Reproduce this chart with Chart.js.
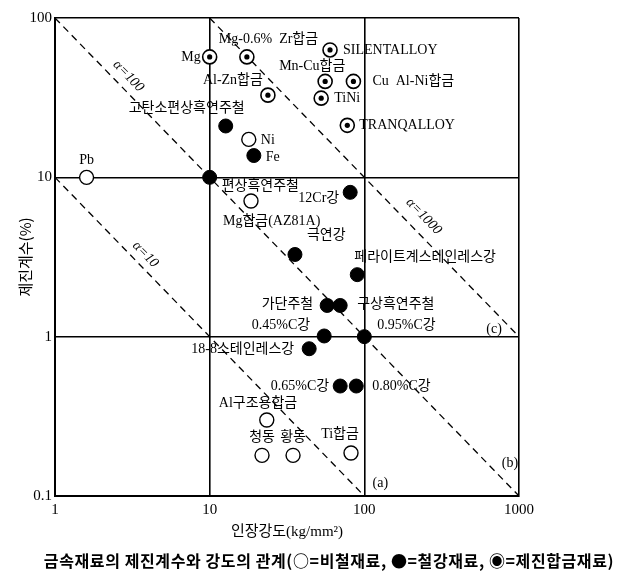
<!DOCTYPE html>
<html><head><meta charset="utf-8">
<script src="https://cdn.jsdelivr.net/npm/chart.js@4/dist/chart.umd.min.js"></script>
<style>html,body{margin:0;padding:0;background:#fff}#wrap{width:620px;height:582px;position:relative}</style>
</head><body><div id="wrap"><canvas id="c" width="620" height="582"></canvas></div>
<script>
// ---- tick values ----
const xTickValues = [1, 10, 100, 1000];
const yTickValues = [0.1, 1, 10, 100];

// ---- ○ non-ferrous materials ----
const nonFerrousNames    = ['Pb', 'Ni', 'Mg합금(AZ81A)', 'Al구조용합금', '청동', '황동', 'Ti합금'];
const nonFerrousStrength = [1.6, 17.9, 18.5, 23.4, 21.8, 34.6, 82];
const nonFerrousDamping  = [10, 17.3, 7.1, 0.30, 0.18, 0.18, 0.186];

// ---- ● ferrous materials ----
const ferrousNames    = ['고탄소편상흑연주철', 'Fe', '편상흑연주철', '12Cr강', '극연강', '페라이트계스테인레스강',
                         '가단주철', '구상흑연주철', '0.45%C강', '0.95%C강', '18-8스테인레스강', '0.65%C강', '0.80%C강'];
const ferrousStrength = [12.7, 19.3, 10, 81, 35.6, 90, 57.5, 69.8, 55, 100, 44, 69.8, 88.7];
const ferrousDamping  = [21, 13.7, 10, 8.05, 3.28, 2.45, 1.57, 1.57, 1.01, 1.0, 0.84, 0.49, 0.49];

// ---- ◉ damping alloys ----
const dampingNames    = ['Mg', 'Mg-0.6%  Zr합금', 'SILENTALLOY', 'Mn-Cu합금', 'Cu  Al-Ni합금', 'TiNi', 'Al-Zn합금', 'TRANQALLOY'];
const dampingStrength = [10, 17.4, 60, 55.8, 85, 52.6, 23.8, 77.6];
const dampingDamping  = [57, 57, 63, 40, 40, 31.4, 32.8, 21.2];

// ---- constant-α lines (damping × strength = α) ----
const alphaValues = [10, 100, 1000];
const alphaStart = [1, 1, 10];        // strength where each line starts
const alphaEnd   = [100, 1000, 1000]; // strength where each line ends

// ---- text styling / placement (pixel offsets, not data) ----
const SERIF = "'Liberation Serif','DejaVu Serif','Noto Sans CJK KR',serif";
const placement = {
  'Pb': [0, -17, 'center'], 'Ni': [12, 1, 'left'], 'Mg합금(AZ81A)': [-28, 20, 'left'],
  'Al구조용합금': [-48, -17, 'left'], '청동': [0, -18, 'center'], '황동': [0, -18, 'center'], 'Ti합금': [-11, -19, 'center'],
  '고탄소편상흑연주철': [-97, -18, 'left'], 'Fe': [12, 2, 'left'], '편상흑연주철': [12, 9, 'left'],
  '12Cr강': [-11, 6, 'right'], '극연강': [12, -19, 'left'], '페라이트계스테인레스강': [-3, -17, 'left'],
  '가단주철': [-14, -1, 'right'], '구상흑연주철': [17, -1, 'left'], '0.45%C강': [-14, -11, 'right'],
  '0.95%C강': [13, -11, 'left'], '18-8스테인레스강': [-15, 1, 'right'], '0.65%C강': [-11, 0, 'right'],
  '0.80%C강': [16, 0, 'left'],
  'Mg': [-9, 0, 'right'], 'Mg-0.6%  Zr합금': [-28, -18, 'left'], 'SILENTALLOY': [13, 0, 'left'],
  'Mn-Cu합금': [-46, -15, 'left'], 'Cu  Al-Ni합금': [19, 0, 'left'], 'TiNi': [13, 0, 'left'],
  'Al-Zn합금': [-65, -15, 'left'], 'TRANQALLOY': [12, 0, 'left']
};
// annotation anchors for line labels: [text, strength, damping, rotate]
const lineLabelAnchors = [
  ['α=100', 2.98, 43.2, true], ['α=10', 3.84, 3.28, true], ['α=1000', 242, 5.69, true],
  ['(a)', 127, 0.12, false], ['(b)', 874, 0.161, false], ['(c)', 690, 1.106, false]
];

const toPts = (xs, ys) => xs.map((v, i) => ({x: v, y: ys[i]}));

const alphaDatasets = alphaValues.map((a, i) => ({
  type: 'line',
  data: [{x: alphaStart[i], y: a / alphaStart[i]}, {x: alphaEnd[i], y: a / alphaEnd[i]}],
  borderColor: '#000', borderWidth: 1.3, borderDash: [7, 5], pointRadius: 0, fill: false, order: 5
}));

const labelPlugin = {
  id: 'labels',
  afterDatasetsDraw(chart) {
    const {ctx, scales: {x, y}} = chart;
    ctx.save();
    ctx.fillStyle = '#000';
    ctx.textBaseline = 'middle';
    ctx.font = "14px " + SERIF;
    const groups = [[nonFerrousNames, nonFerrousStrength, nonFerrousDamping],
                    [ferrousNames, ferrousStrength, ferrousDamping],
                    [dampingNames, dampingStrength, dampingDamping]];
    groups.forEach(([names, xs, ys]) => names.forEach((n, i) => {
      const p = placement[n]; if (!p) return;
      ctx.textAlign = p[2];
      ctx.fillText(n, x.getPixelForValue(xs[i]) + p[0], y.getPixelForValue(ys[i]) + p[1]);
    }));
    const ang = Math.atan2(y.getPixelForValue(1) - y.getPixelForValue(10), x.getPixelForValue(10) - x.getPixelForValue(1));
    lineLabelAnchors.forEach(([t, xv, yv, rot]) => {
      ctx.save();
      ctx.translate(x.getPixelForValue(xv), y.getPixelForValue(yv));
      if (rot) ctx.rotate(ang);
      ctx.textAlign = 'center';
      ctx.font = (rot ? "italic 14px " : "14px ") + SERIF;
      ctx.fillText(t, 0, 0);
      ctx.restore();
    });
    ctx.restore();
  },
  afterDraw(chart) {
    const ctx = chart.ctx;
    ctx.save();
    ctx.fillStyle = '#000';
    ctx.textAlign = 'center';
    ctx.textBaseline = 'middle';
    ctx.font = "bold 16px 'Noto Sans CJK KR','Noto Sans',sans-serif";
    if ('letterSpacing' in ctx) ctx.letterSpacing = '0.6px';
    ctx.fillText('금속재료의 제진계수와 강도의 관계(○=비철재료, ●=철강재료, ◉=제진합금재료)', 329, 561);
    ctx.restore();
  }
};

new Chart(document.getElementById('c'), {
  type: 'scatter',
  data: {
    datasets: [
      ...alphaDatasets,
      {label: '비철재료', data: toPts(nonFerrousStrength, nonFerrousDamping), pointRadius: 7, pointHoverRadius: 7,
       backgroundColor: '#fff', borderColor: '#000', borderWidth: 1.4, order: 1},
      {label: '철강재료', data: toPts(ferrousStrength, ferrousDamping), pointRadius: 7, pointHoverRadius: 7,
       backgroundColor: '#000', borderColor: '#000', borderWidth: 1, order: 1},
      {label: '제진합금재료', data: toPts(dampingStrength, dampingDamping), pointRadius: 7, pointHoverRadius: 7,
       backgroundColor: '#fff', borderColor: '#000', borderWidth: 1.6, order: 1},
      {label: '제진합금재료-center', data: toPts(dampingStrength, dampingDamping), pointRadius: 2.6, pointHoverRadius: 2.6,
       backgroundColor: '#000', borderColor: '#000', borderWidth: 0, order: 0}
    ]
  },
  options: {
    responsive: false, animation: false, devicePixelRatio: 1,
    layout: {padding: {left: 2, right: 101, top: 18, bottom: 30}},
    plugins: {legend: {display: false}, tooltip: {enabled: false}, title: {display: false}},
    scales: {
      x: {
        type: 'logarithmic', min: 1, max: 1000,
        afterBuildTicks: s => { s.ticks = xTickValues.map(v => ({value: v})); },
        afterFit: s => { s.height = 56; },
        ticks: {color: '#000', font: {family: SERIF, size: 15}, padding: 5, maxRotation: 0, autoSkip: false,
                callback: v => String(v)},
        grid: {color: '#000', lineWidth: 1.6, drawTicks: false},
        border: {color: '#000', width: 2},
        title: {display: true, text: '인장강도(kg/mm²)', color: '#000', font: {family: SERIF, size: 15}, padding: {top: 2, bottom: 11}}
      },
      y: {
        type: 'logarithmic', min: 0.1, max: 100,
        afterBuildTicks: s => { s.ticks = yTickValues.map(v => ({value: v})); },
        afterFit: s => { s.width = 53; },
        ticks: {color: '#000', font: {family: SERIF, size: 15}, padding: 3, autoSkip: false,
                callback: v => String(v)},
        grid: {color: '#000', lineWidth: 1.6, drawTicks: false},
        border: {color: '#000', width: 2},
        title: {display: true, text: '제진계수(%)', color: '#000', font: {family: "'Noto Sans CJK KR',sans-serif", size: 15}, padding: {top: 14, bottom: 0}}
      }
    }
  },
  plugins: [labelPlugin]
});
</script>
</body></html>
